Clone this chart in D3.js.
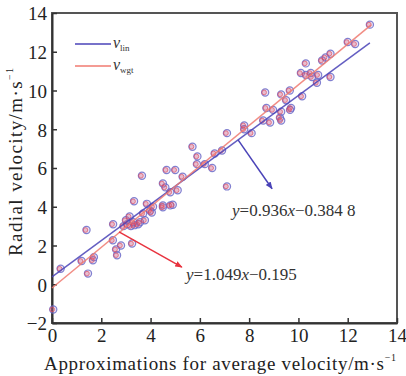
<!DOCTYPE html>
<html>
<head>
<meta charset="utf-8">
<script src="https://cdn.jsdelivr.net/npm/d3@7"></script>
<style>
  body { margin: 0; background: #fff; }
  text { font-family: "Liberation Serif", "Times New Roman", serif; }
</style>
</head>
<body>
<div id="chart"></div>
<script>
// measured points (approximation, radial velocity)
var approxX = [0.05,0.35,1.2,1.4,1.46,1.66,1.7,2.47,2.6,2.64,2.8,3.25,2.48,2.9,3.05,3.2,3.35,3.5,3.3,3.0,3.15,3.57,3.7,3.33,3.65,3.77,3.85,3.98,4.05,4.1,4.5,4.5,4.8,4.9,4.5,4.65,5.0,4.6,4.8,5.1,5.3,5.7,5.9,5.88,6.2,6.5,6.6,6.9,7.1,7.1,7.8,7.8,8.1,8.57,8.85,9.25,9.3,8.7,8.97,9.3,9.7,9.66,9.5,8.65,9.3,9.65,10.15,10.1,10.3,10.5,10.55,10.8,11.3,10.75,10.3,10.96,11.1,11.3,12.0,12.3,12.9];
var radialY = [-1.3,0.8,1.2,2.8,0.55,1.24,1.4,2.27,1.8,1.5,2.0,2.1,3.1,3.0,3.1,3.0,3.05,3.1,3.2,3.3,3.5,3.2,3.65,4.28,5.6,3.3,4.15,3.8,3.7,4.0,4.07,3.97,4.07,4.1,5.2,5.9,5.9,5.0,4.75,4.85,5.55,7.1,6.6,6.2,6.2,6.0,6.75,6.9,7.8,5.05,8.2,8.0,7.8,8.45,8.35,8.6,8.45,9.1,9.0,8.9,9.1,9.0,9.5,9.9,9.8,10.0,9.7,10.9,10.8,10.9,10.7,10.8,10.7,10.4,11.4,11.55,11.7,11.9,12.5,12.4,13.4];

// fitted lines: [slope, intercept, xmax]
var fitLin = [0.936, 0.3848, 12.9];
var fitWgt = [1.049, -0.195, 12.95];

var xTicks = [0, 2, 4, 6, 8, 10, 12, 14];
var yTicks = [-2, 0, 2, 4, 6, 8, 10, 12, 14];

var width = 406, height = 376;
var margin = {left: 52, right: 9, top: 13, bottom: 53};

var svg = d3.select("#chart").append("svg")
  .attr("width", width)
  .attr("height", height);

var x = d3.scaleLinear().domain([0, 14]).range([margin.left, width - margin.right]);
var y = d3.scaleLinear().domain([-2, 14]).range([height - margin.bottom, margin.top]);

var blue = "#4a43b8";
var red = "#e8333f";

// frame
svg.append("rect")
  .attr("x", x(0)).attr("y", y(14))
  .attr("width", x(14) - x(0)).attr("height", y(-2) - y(14))
  .attr("fill", "none").attr("stroke", "#555").attr("stroke-width", 2);

// axes (ticks point inward)
var xAxis = svg.append("g")
  .attr("transform", "translate(0," + y(-2) + ")")
  .call(d3.axisBottom(x).tickValues(xTicks).tickSizeInner(-5).tickSizeOuter(0).tickPadding(6));
var yAxis = svg.append("g")
  .attr("transform", "translate(" + x(0) + ",0)")
  .call(d3.axisLeft(y).tickValues(yTicks).tickSizeInner(-5).tickSizeOuter(0).tickPadding(5)
    .tickFormat(function(d) { return d < 0 ? "\u2212" + Math.abs(d) : d; }));
[xAxis, yAxis].forEach(function(a) {
  a.select(".domain").attr("stroke", "#333").attr("stroke-width", 2);
  a.selectAll(".tick line").attr("stroke", "#333").attr("stroke-width", 1.5);
  a.selectAll(".tick text").attr("font-size", 19).attr("fill", "#222")
    .style("font-family", "'Liberation Serif', serif");
});
yAxis.selectAll(".tick text").attr("dy", "0.36em");

// points
var pts = d3.zip(approxX, radialY);
svg.append("g").selectAll("circle.b").data(pts).enter().append("circle")
  .attr("cx", function(d) { return x(d[0]); })
  .attr("cy", function(d) { return y(d[1]); })
  .attr("r", 3.6)
  .attr("fill", "rgba(170,150,215,0.3)")
  .attr("stroke", "#6c6ac8").attr("stroke-width", 1.2).attr("opacity", 0.85);
svg.append("g").selectAll("circle.r").data(pts).enter().append("circle")
  .attr("cx", function(d) { return x(d[0]) - 1; })
  .attr("cy", function(d) { return y(d[1]); })
  .attr("r", 2.3)
  .attr("fill", "rgba(230,60,80,0.3)")
  .attr("stroke", "#e04a60").attr("stroke-width", 1).attr("opacity", 0.75);

// fit lines
function fitLine(f, color) {
  svg.append("line")
    .attr("x1", x(0)).attr("y1", y(f[1]))
    .attr("x2", x(f[2])).attr("y2", y(f[0] * f[2] + f[1]))
    .attr("stroke", color).attr("stroke-width", 1.5).attr("opacity", 0.85);
}
fitLine(fitLin, blue);
fitLine(fitWgt, "#f07a70");

// arrows
var defs = svg.append("defs");
[["ab", blue], ["ar", red]].forEach(function(m) {
  defs.append("marker").attr("id", m[0])
    .attr("viewBox", "0 0 10 10").attr("refX", 9).attr("refY", 5)
    .attr("markerWidth", 5).attr("markerHeight", 5).attr("orient", "auto")
    .append("path").attr("d", "M0,1 L10,5 L0,9 Z").attr("fill", m[1]);
});
svg.append("line").attr("x1", x(7.55)).attr("y1", y(7.45)).attr("x2", x(8.93)).attr("y2", y(4.93))
  .attr("stroke", blue).attr("stroke-width", 1.5).attr("marker-end", "url(#ab)");
svg.append("line").attr("x1", x(2.72)).attr("y1", y(2.7)).attr("x2", x(5.27)).attr("y2", y(0.88))
  .attr("stroke", red).attr("stroke-width", 1.5).attr("marker-end", "url(#ar)");

// equations
function equation(tx, ty, a, b) {
  var t = svg.append("text").attr("x", tx).attr("y", ty).attr("font-size", 17).attr("fill", "#333");
  t.append("tspan").attr("font-style", "italic").text("y");
  t.append("tspan").text("=" + a);
  t.append("tspan").attr("font-style", "italic").text("x");
  t.append("tspan").text("\u2212" + b);
}
equation(232, 216, "0.936", "0.384 8");
equation(186, 280, "1.049", "0.195");

// legend
function legendItem(ly, color, sub) {
  svg.append("line").attr("x1", 75).attr("x2", 111).attr("y1", ly).attr("y2", ly)
    .attr("stroke", color).attr("stroke-width", 1.5);
  var t = svg.append("text").attr("x", 113).attr("y", ly + 4).attr("font-size", 16).attr("fill", "#333");
  t.append("tspan").attr("font-style", "italic").text("v");
  t.append("tspan").attr("font-size", 9).attr("dy", 3).text(sub);
}
legendItem(44, blue, "lin");
legendItem(66, "#f07a70", "wgt");

// axis titles
var xt = svg.append("text").attr("x", 44).attr("y", 370).attr("font-size", 19).attr("fill", "#222")
  .attr("textLength", 352).attr("lengthAdjust", "spacing");
xt.append("tspan").text("Approximations for average velocity/m\u00b7s");
xt.append("tspan").attr("font-size", 10).attr("dy", -9).text("\u22121");

var yt = svg.append("text").attr("transform", "translate(22,256) rotate(-90)")
  .attr("font-size", 19).attr("fill", "#222")
  .attr("textLength", 188).attr("lengthAdjust", "spacing");
yt.append("tspan").text("Radial velocity/m\u00b7s");
yt.append("tspan").attr("font-size", 10).attr("dy", -9).text("\u22121");
</script>
</body>
</html>
